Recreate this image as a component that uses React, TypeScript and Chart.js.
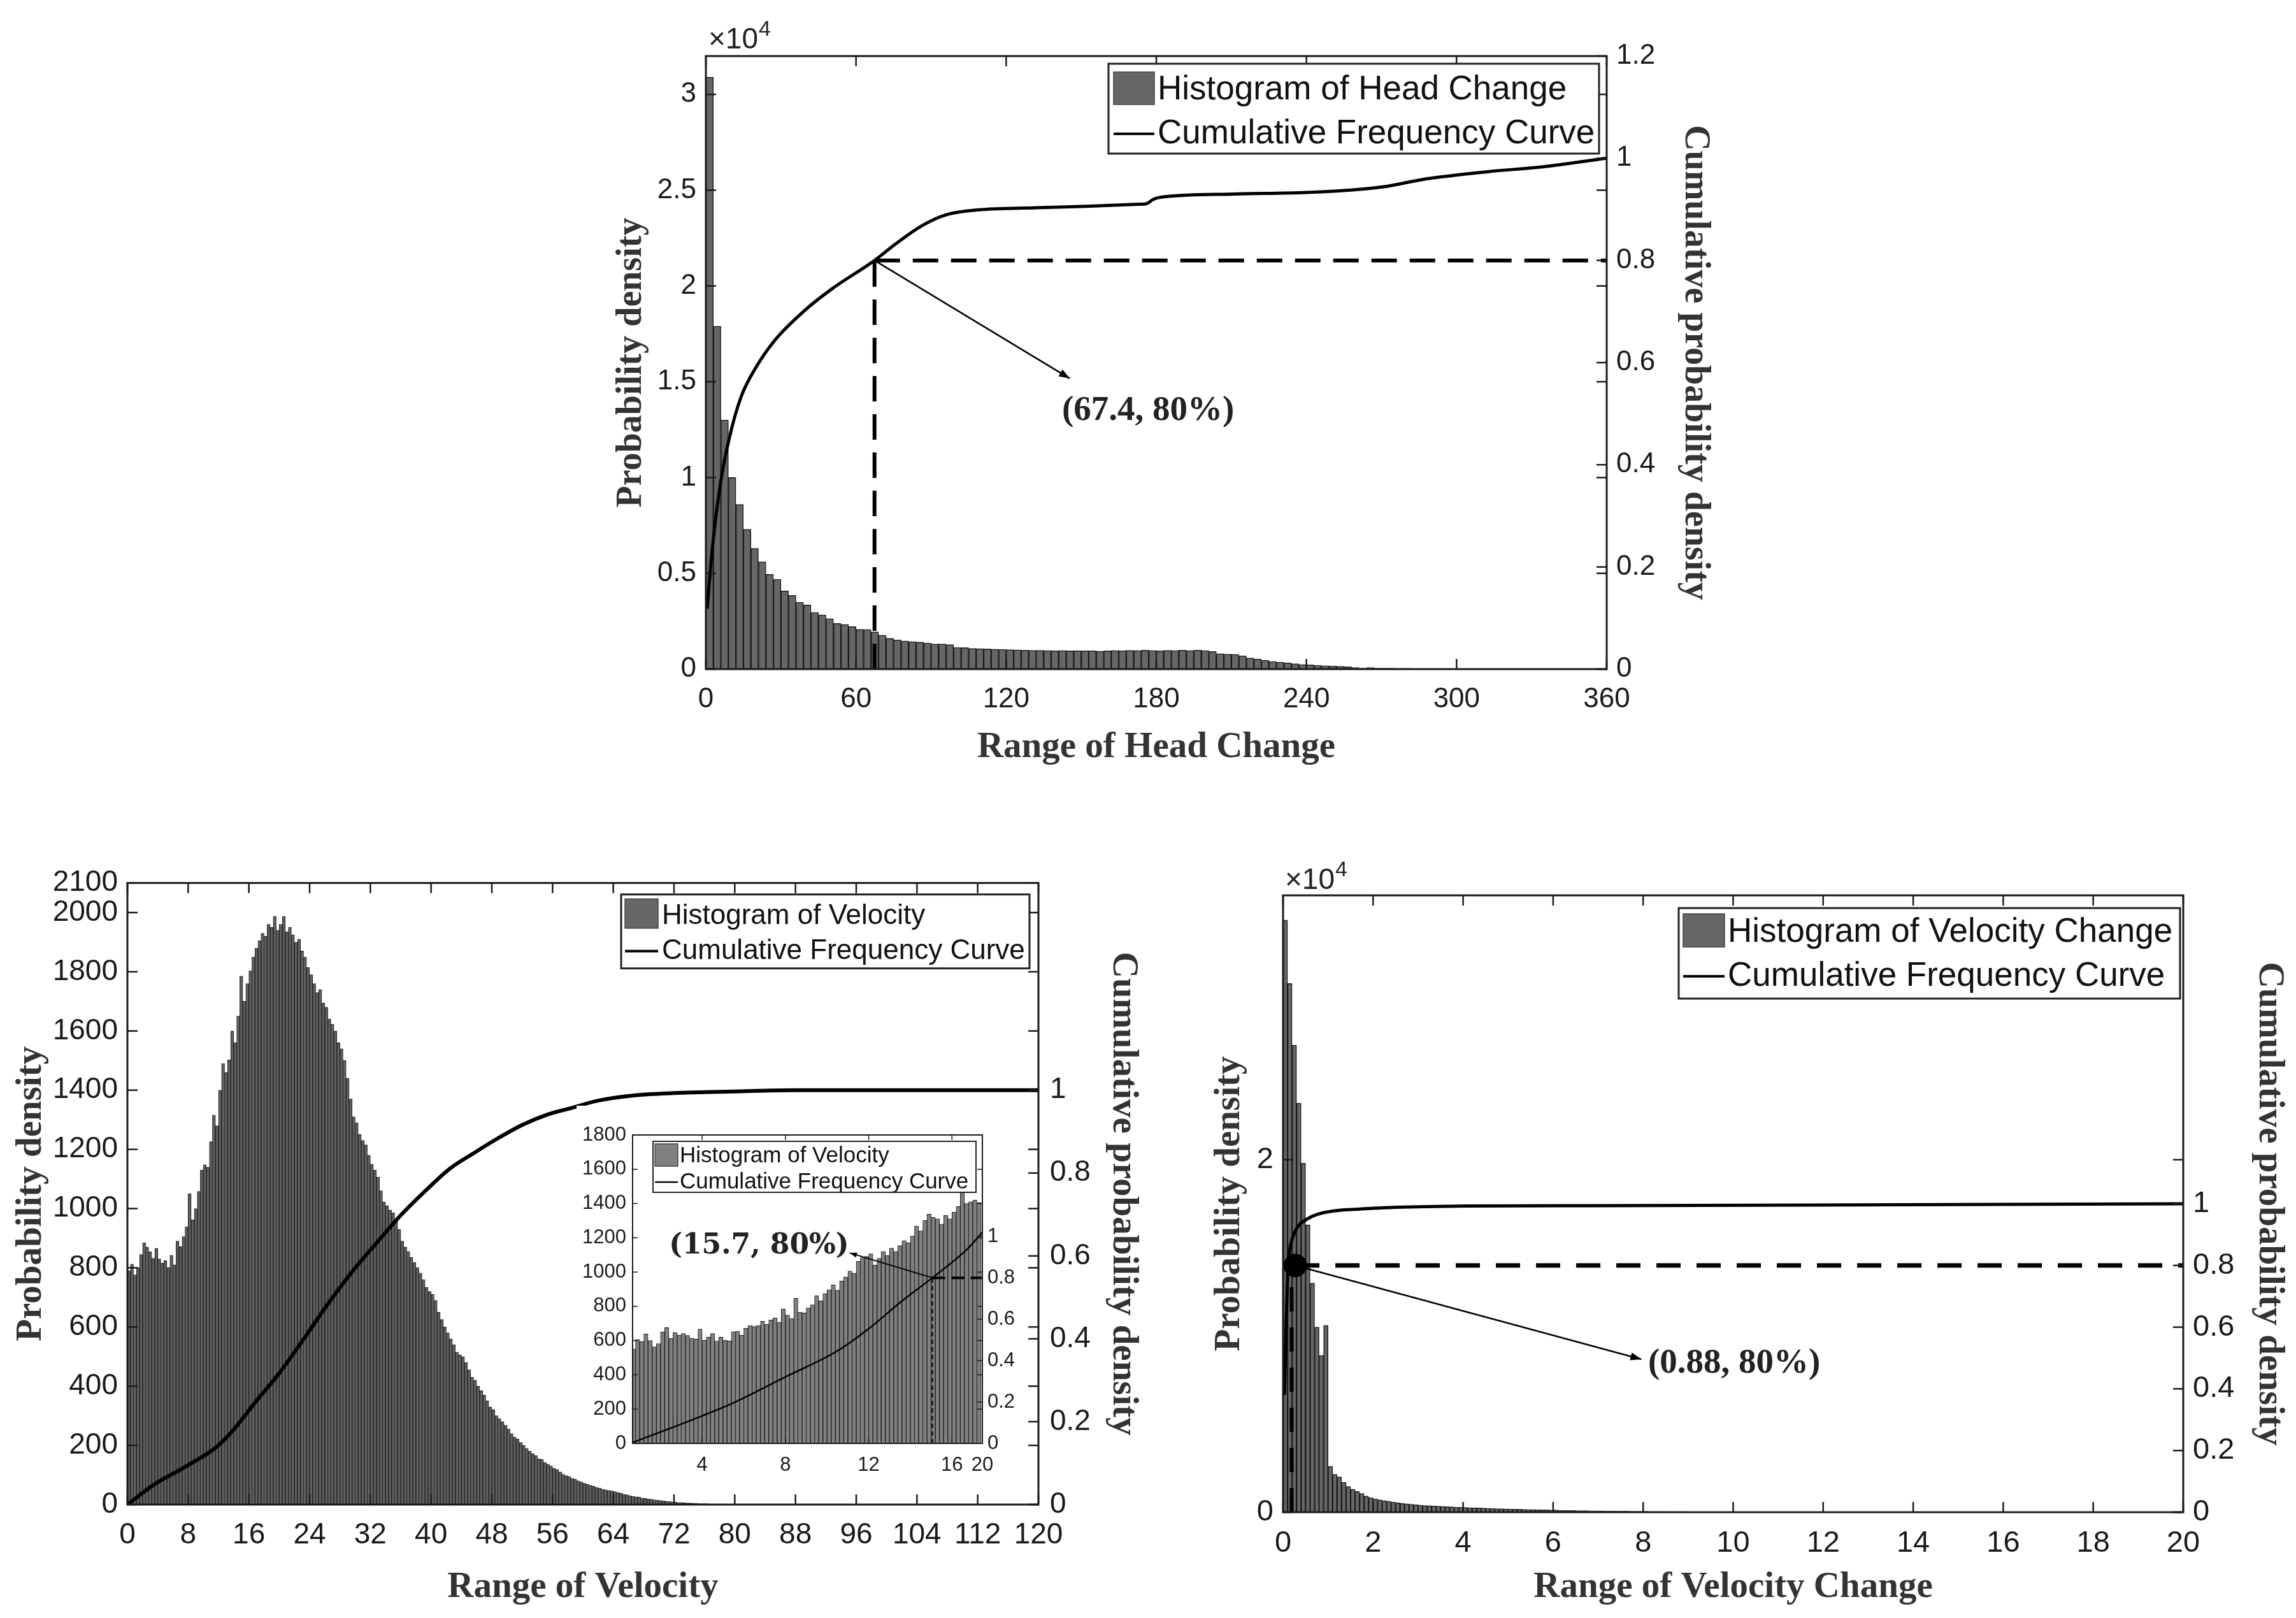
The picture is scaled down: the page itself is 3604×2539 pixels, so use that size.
import { useEffect, useRef } from "react";
import { Chart, registerables } from "chart.js";

Chart.register(...registerables);

const sans = "'Liberation Sans', Arial, Helvetica, sans-serif";
const serif = "'Liberation Serif', 'Times New Roman', serif";
const wideSerif = "'DejaVu Serif', serif";

// ---------- top: head change ----------
const headBinStart = 0;
const headBinWidth = 3;
// probability density in units of 10^4, one bar per 3 degrees
const headDensity = [
  3.09, 1.79, 1.3, 1.0, 0.86, 0.73, 0.63, 0.56, 0.495, 0.469,
  0.408, 0.385, 0.349, 0.335, 0.296, 0.283, 0.263, 0.238, 0.233, 0.222,
  0.208, 0.207, 0.194, 0.177, 0.161, 0.153, 0.147, 0.144, 0.141, 0.136,
  0.131, 0.131, 0.128, 0.113, 0.112, 0.108, 0.107, 0.105, 0.104, 0.103,
  0.101, 0.1, 0.099, 0.098, 0.098, 0.097, 0.096, 0.097, 0.095, 0.096,
  0.095, 0.096, 0.094, 0.095, 0.097, 0.096, 0.098, 0.097, 0.099, 0.097,
  0.095, 0.098, 0.097, 0.099, 0.097, 0.099, 0.097, 0.092, 0.08, 0.078,
  0.077, 0.07, 0.058, 0.052, 0.046, 0.04, 0.036, 0.033, 0.028, 0.024,
  0.022, 0.02, 0.017, 0.016, 0.015, 0.012, 0.008, 0.005, 0.008, 0.005,
  0.005, 0.005, 0.004, 0.004, 0.003, 0.002, 0.002, 0.002, 0.002, 0.002,
  0.002, 0.002, 0.002, 0.002, 0.002, 0.001, 0.001, 0.001, 0.001, 0.001,
  0.001, 0.001, 0.001, 0.001, 0.001, 0.001, 0.001, 0.001, 0.001, 0.001,
];
const headCurveX = [0.5, 2.6, 6, 9.4, 14, 19.7, 27.6, 39, 50, 67.4, 76, 86.7, 95.8, 109, 132, 152, 173, 176, 179, 184, 211, 240, 263, 272, 287, 313, 334, 360];
const headCurveY = [0.118, 0.237, 0.369, 0.453, 0.532, 0.588, 0.644, 0.7, 0.743, 0.8, 0.833, 0.869, 0.889, 0.899, 0.903, 0.906, 0.91, 0.911, 0.92, 0.925, 0.93, 0.933, 0.94, 0.945, 0.959, 0.974, 0.983, 1.0];
const headXTicks = [0, 60, 120, 180, 240, 300, 360];
const headLeftTicks = [0, 0.5, 1, 1.5, 2, 2.5, 3];
const headRightTicks = [0, 0.2, 0.4, 0.6, 0.8, 1, 1.2];
const headPoint = [67.4, 0.8];
const headArrowTip = [145.4, 0.569];
const headNote = "(67.4, 80%)";
const headNoteAt = [142.3, 0.505];
const headLegend = ["Histogram of Head Change", "Cumulative Frequency Curve"];

// ---------- bottom left: velocity ----------
const velBinStart = 0;
const velBinWidth = 0.4;
const velDensity = [
  790, 812, 776, 800, 845, 884, 870, 854, 832, 866,
  830, 816, 824, 800, 842, 810, 890, 872, 905, 938,
  1050, 962, 1000, 1058, 1130, 1148, 1140, 1226, 1316, 1280,
  1400, 1490, 1460, 1502, 1600, 1560, 1650, 1785, 1700, 1760,
  1803, 1850, 1880, 1905, 1930, 1920, 1960, 1950, 1987, 1940,
  1960, 1987, 1935, 1950, 1925, 1900, 1910, 1870, 1850, 1814,
  1790, 1760, 1730, 1740, 1695, 1680, 1640, 1623, 1600, 1560,
  1540, 1500, 1440, 1370, 1310, 1290, 1250, 1230, 1215, 1180,
  1150, 1130, 1106, 1060, 1022, 1010, 995, 986, 962, 930,
  890, 870, 854, 835, 818, 800, 782, 760, 734, 720,
  710, 690, 650, 625, 600, 580, 560, 540, 515, 505,
  500, 480, 455, 430, 420, 400, 385, 370, 350, 330,
  320, 300, 290, 280, 268, 255, 240, 228, 222, 210,
  200, 190, 180, 172, 165, 155, 152, 142, 136, 130,
  122, 118, 110, 102, 98, 95, 88, 86, 80, 76,
  72, 68, 65, 62, 58, 55, 52, 50, 48, 46,
  44, 40, 38, 35, 33, 30, 28, 26, 25, 22,
  21, 19, 18, 16, 15, 14, 12, 11, 10, 9,
  8, 7, 7, 6, 5, 5, 4, 4, 3, 3,
  3, 2, 2, 2, 2, 1, 1, 1, 1, 1,
];
const velCurveX = [0, 3.4, 7.6, 11.8, 14, 16.8, 20, 23.2, 26.4, 29.6, 32.8, 36.1, 39.3, 42.5, 45.7, 48.9, 52.1, 55.3, 58.5, 61.8, 67.1, 72, 80, 88, 100, 120];
const velCurveY = [0, 0.047, 0.091, 0.14, 0.181, 0.246, 0.317, 0.399, 0.484, 0.562, 0.631, 0.7, 0.758, 0.811, 0.849, 0.885, 0.917, 0.941, 0.957, 0.974, 0.988, 0.993, 0.997, 1.0, 1.0, 1.0];
const velXTicks = [0, 8, 16, 24, 32, 40, 48, 56, 64, 72, 80, 88, 96, 104, 112, 120];
const velLeftTicks = [0, 200, 400, 600, 800, 1000, 1200, 1400, 1600, 1800, 2000, 2100];
const velRightTicks = [0, 0.2, 0.4, 0.6, 0.8, 1];
const velLegend = ["Histogram of Velocity", "Cumulative Frequency Curve"];

// ---------- inset of the velocity panel ----------
const insetBinStart = 0.6;
const insetBinWidth = 0.2;
const insetDensity = [
  551, 607, 595, 638, 600, 563, 582, 651, 676, 613,
  647, 632, 641, 630, 613, 610, 667, 601, 620, 641,
  597, 620, 601, 598, 651, 655, 632, 673, 688, 682,
  688, 713, 694, 720, 732, 707, 784, 749, 729, 847,
  766, 761, 790, 809, 862, 832, 875, 897, 925, 894,
  948, 971, 1006, 994, 1062, 1084, 1091, 1106, 1040, 1080,
  1120, 1097, 1140, 1120, 1154, 1183, 1170, 1210, 1268, 1240,
  1300, 1339, 1320, 1311, 1280, 1330, 1311, 1350, 1382, 1467,
  1400, 1410, 1420, 1405,
];
const insetCurveX = [0.66, 4, 5.5, 8, 10.5, 12.1, 13.6, 15.06, 16.75, 17.46];
const insetCurveY = [0.004, 0.133, 0.196, 0.321, 0.447, 0.562, 0.688, 0.8, 0.94, 1.02];
const insetXRange = [0.66, 17.46];
const insetXTicks = [4, 8, 12, 16, 17.46];
const insetXLabels = ["4", "8", "12", "16", "20"];
const insetLeftTicks = [0, 200, 400, 600, 800, 1000, 1200, 1400, 1600, 1800];
const insetRightTicks = [0, 0.2, 0.4, 0.6, 0.8, 1];
const insetPoint = [15.06, 0.8];
const insetArrowTip = [11.09, 0.92];
const insetNote = "(15.7, 80%)";
const insetNoteAt = [2.41, 0.954];

// ---------- bottom right: velocity change ----------
const chgBinStart = 0;
const chgBinWidth = 0.1;
// probability density in units of 10^4
const chgDensity = [
  3.36, 3.0, 2.65, 2.32, 1.98, 1.63, 1.3, 1.05, 0.89, 1.06,
  0.26, 0.215, 0.2, 0.17, 0.146, 0.13, 0.118, 0.106, 0.092, 0.083,
  0.076, 0.07, 0.066, 0.062, 0.058, 0.053, 0.05, 0.048, 0.045, 0.042,
  0.04, 0.038, 0.037, 0.036, 0.034, 0.033, 0.031, 0.03, 0.029, 0.028,
  0.027, 0.026, 0.025, 0.024, 0.023, 0.022, 0.021, 0.02, 0.02, 0.019,
  0.018, 0.017, 0.017, 0.016, 0.015, 0.015, 0.014, 0.013, 0.013, 0.012,
  0.012, 0.011, 0.011, 0.01, 0.01, 0.009, 0.009, 0.009, 0.008, 0.008,
  0.008, 0.007, 0.007, 0.007, 0.006, 0.006, 0.006, 0.005, 0.005, 0.005,
  0.005, 0.004, 0.004, 0.004, 0.004, 0.003, 0.003, 0.003, 0.003, 0.003,
  0.002, 0.002, 0.002, 0.002, 0.002, 0.002, 0.001, 0.001, 0.002, 0.001,
];
const chgCurveX = [0.03, 0.07, 0.1, 0.13, 0.175, 0.29, 0.53, 1.0, 1.71, 2.65, 4.07, 7, 13.7, 20];
const chgCurveY = [0.38, 0.62, 0.76, 0.83, 0.87, 0.917, 0.95, 0.974, 0.983, 0.989, 0.993, 0.994, 0.997, 1.0];
const chgXTicks = [0, 2, 4, 6, 8, 10, 12, 14, 16, 18, 20];
const chgLeftTicks = [0, 2];
const chgRightTicks = [0, 0.2, 0.4, 0.6, 0.8, 1];
const chgPoint = [0.27, 0.8];
const chgDropX = 0.19;
const chgArrowTip = [7.96, 0.496];
const chgNote = "(0.88, 80%)";
const chgNoteAt = [8.11, 0.481];
const chgLegend = ["Histogram of Velocity Change", "Cumulative Frequency Curve"];

const pts = (xs: number[], ys: number[]) => xs.map((x, i) => ({ x, y: ys[i] }));
const binned = (vals: number[], start: number, width: number) =>
  vals.map((y, i) => ({ x: start + (i + 0.5) * width, y }));

function seg(c: any, x0: number, y0: number, x1: number, y1: number) {
  c.beginPath();
  c.moveTo(x0, y0);
  c.lineTo(x1, y1);
  c.stroke();
}

// frame, inward ticks, legend box, arrow and notes in MATLAB style
const decoPlugin = {
  id: "deco",
  beforeDraw(chart: any, _args: any, o: any) {
    if (!o.whiteBg) return;
    const c = chart.ctx;
    c.save();
    c.fillStyle = "#fff";
    c.fillRect(0, 0, chart.width, chart.height);
    c.restore();
  },
  afterDraw(chart: any, _args: any, o: any) {
    const c = chart.ctx;
    const a = chart.chartArea;
    const xs = chart.scales.x;
    const yl = chart.scales.y;
    const yr = chart.scales.y1;
    const tl = o.tickLen;
    c.save();
    c.setLineDash([]);
    c.strokeStyle = "#1a1a1a";
    c.lineWidth = o.tickWidth;
    for (const t of xs.ticks) {
      const px = xs.getPixelForValue(t.value);
      seg(c, px, a.bottom, px, a.bottom - tl);
      seg(c, px, a.top, px, a.top + tl);
    }
    for (const t of yl.ticks) {
      const py = yl.getPixelForValue(t.value);
      seg(c, a.left, py, a.left + tl, py);
      seg(c, a.right, py, a.right - tl, py);
    }
    for (const t of yr.ticks) {
      const py = yr.getPixelForValue(t.value);
      seg(c, a.right, py, a.right - tl, py);
    }
    c.lineWidth = o.frameWidth;
    c.strokeRect(a.left, a.top, a.right - a.left, a.bottom - a.top);

    if (o.arrow) {
      const { from, to, width, head } = o.arrow;
      const x0 = xs.getPixelForValue(from[0]);
      const y0 = yr.getPixelForValue(from[1]);
      const x1 = xs.getPixelForValue(to[0]);
      const y1 = yr.getPixelForValue(to[1]);
      c.strokeStyle = "#000";
      c.lineWidth = width;
      seg(c, x0, y0, x1, y1);
      const ang = Math.atan2(y1 - y0, x1 - x0);
      c.fillStyle = "#000";
      c.beginPath();
      c.moveTo(x1, y1);
      c.lineTo(x1 - head * Math.cos(ang - 0.35), y1 - head * Math.sin(ang - 0.35));
      c.lineTo(x1 - head * Math.cos(ang + 0.35), y1 - head * Math.sin(ang + 0.35));
      c.closePath();
      c.fill();
    }

    if (o.note) {
      c.font = `bold ${o.note.size}px ${o.note.family}`;
      c.fillStyle = "#222";
      c.textAlign = "left";
      c.textBaseline = "middle";
      c.fillText(o.note.text, xs.getPixelForValue(o.note.at[0]), yr.getPixelForValue(o.note.at[1]));
    }

    if (o.legend) {
      const L = o.legend;
      const bx = a.right - L.right - L.w;
      const by = a.top + L.top;
      c.fillStyle = "#fff";
      c.fillRect(bx, by, L.w, L.h);
      c.strokeStyle = "#222";
      c.lineWidth = L.border;
      c.strokeRect(bx, by, L.w, L.h);
      c.fillStyle = L.swatchColor;
      c.fillRect(bx + L.sw[0], by + L.sw[1], L.sw[2], L.sw[3]);
      c.lineWidth = 1.5;
      c.strokeStyle = "#444";
      c.strokeRect(bx + L.sw[0], by + L.sw[1], L.sw[2], L.sw[3]);
      c.strokeStyle = "#000";
      c.lineWidth = L.lineWidth;
      seg(c, bx + L.sw[0], by + L.rows[1], bx + L.sw[0] + L.sw[2], by + L.rows[1]);
      c.fillStyle = "#111";
      c.font = `${L.size}px ${sans}`;
      c.textAlign = "left";
      c.textBaseline = "middle";
      c.fillText(L.labels[0], bx + L.textX, by + L.rows[0]);
      c.fillText(L.labels[1], bx + L.textX, by + L.rows[1]);
    }

    if (o.exponent) {
      const e = o.exponent;
      c.fillStyle = "#222";
      c.textAlign = "left";
      c.textBaseline = "alphabetic";
      c.font = `${e.size}px ${sans}`;
      const x0 = a.left + e.dx;
      const y0 = a.top - e.dy;
      c.fillText("\u00d710", x0, y0);
      const w = c.measureText("\u00d710").width;
      c.font = `${e.supSize}px ${sans}`;
      c.fillText("4", x0 + w + 1, y0 - e.rise);
    }
    c.restore();
  },
};

function axis(s: any) {
  const horizontal = s.position === "bottom";
  return {
    type: "linear",
    position: s.position,
    min: s.min,
    max: s.max,
    offset: false,
    grid: { display: false, drawTicks: false },
    border: { display: false },
    afterBuildTicks: (sc: any) => {
      sc.ticks = s.ticks.map((v: number) => ({ value: v }));
    },
    afterFit: (sc: any) => {
      if (horizontal) sc.height = s.size;
      else sc.width = s.size;
    },
    ticks: {
      autoSkip: false,
      maxRotation: 0,
      minRotation: 0,
      padding: s.tickPad,
      color: "#1a1a1a",
      font: { family: sans, size: s.tickSize },
      callback: (v: number, i: number) => (s.labels ? s.labels[i] : String(v)),
    },
    title: s.title
      ? {
          display: true,
          text: s.title,
          color: "#333",
          font: { family: serif, size: s.titleSize, weight: "bold" },
          padding: horizontal ? { top: 0, bottom: s.titlePad } : { top: s.titlePad, bottom: 0 },
        }
      : { display: false },
  };
}

const curve = (data: any[], width: number) => ({
  type: "line",
  data,
  yAxisID: "y1",
  borderColor: "#000",
  borderWidth: width,
  pointRadius: 0,
  cubicInterpolationMode: "monotone",
  fill: false,
  order: 1,
});

const dashed = (data: any[], width: number, dash: number[]) => ({
  type: "line",
  data,
  yAxisID: "y1",
  borderColor: "#000",
  borderWidth: width,
  borderDash: dash,
  pointRadius: 0,
  tension: 0,
  fill: false,
  order: 0,
});

const hist = (data: any[], fill: string, edge: number) => ({
  type: "bar",
  data,
  yAxisID: "y",
  backgroundColor: fill,
  borderColor: "#1a1a1a",
  borderWidth: edge,
  barPercentage: 1,
  categoryPercentage: 1,
  order: 5,
});

function config(datasets: any[], scales: any, topPad: number, deco: any) {
  return {
    type: "bar",
    data: { datasets },
    options: {
      responsive: false,
      animation: false,
      devicePixelRatio: 1,
      events: [],
      layout: { padding: { top: topPad, left: 0, right: 0, bottom: 0 } },
      plugins: { legend: { display: false }, tooltip: { enabled: false }, deco },
      scales,
    },
    plugins: [decoPlugin],
  };
}

const headConfig = () =>
  config(
    [
      dashed([{ x: headPoint[0], y: headPoint[1] }, { x: 360, y: headPoint[1] }], 6, [40, 20]),
      dashed([{ x: headPoint[0], y: 0 }, { x: headPoint[0], y: headPoint[1] }], 6, [40, 20]),
      curve(pts(headCurveX, headCurveY), 5),
      hist(binned(headDensity, headBinStart, headBinWidth), "#666666", 1.5),
    ],
    {
      x: axis({ position: "bottom", min: 0, max: 360, ticks: headXTicks, size: 180, title: "Range of Head Change", titleSize: 57, titlePad: 23, tickSize: 44, tickPad: 21 }),
      y: axis({ position: "left", min: 0, max: 3.2, ticks: headLeftTicks, size: 208, title: "Probability density", titleSize: 56, titlePad: 58, tickSize: 44, tickPad: 15 }),
      y1: axis({ position: "right", min: 0, max: 1.2, ticks: headRightTicks, size: 198, title: "Cumulative probability density", titleSize: 56, titlePad: 26, tickSize: 44, tickPad: 15 }),
    },
    88,
    {
      tickLen: 16,
      tickWidth: 2.5,
      frameWidth: 3,
      arrow: { from: headPoint, to: headArrowTip, width: 2.5, head: 18 },
      note: { text: headNote, at: headNoteAt, size: 55, family: serif },
      legend: { labels: headLegend, right: 12, top: 12, w: 770, h: 141, sw: [8, 13, 64, 51], textX: 77, rows: [41, 110], size: 53, border: 3, lineWidth: 4, swatchColor: "#666666" },
      exponent: { dx: 4, dy: 12, rise: 20, size: 46, supSize: 34 },
    }
  );

const velocityConfig = () =>
  config(
    [
      curve(pts(velCurveX, velCurveY), 6),
      hist(binned(velDensity, velBinStart, velBinWidth), "#606060", 1),
    ],
    {
      x: axis({ position: "bottom", min: 0, max: 120, ticks: velXTicks, size: 178, title: "Range of Velocity", titleSize: 57, titlePad: 14, tickSize: 46, tickPad: 21 }),
      y: axis({ position: "left", min: 0, max: 2100, ticks: velLeftTicks, size: 200, title: "Probability density", titleSize: 57, titlePad: 15, tickSize: 46, tickPad: 15 }),
      y1: axis({ position: "right", min: 0, max: 1.5, ticks: velRightTicks, size: 200, title: "Cumulative probability density", titleSize: 57, titlePad: 33, tickSize: 46, tickPad: 18 }),
    },
    44,
    {
      tickLen: 16,
      tickWidth: 2.5,
      frameWidth: 3,
      legend: { labels: velLegend, right: 14, top: 18, w: 641, h: 116, sw: [6, 7, 52, 46], textX: 64, rows: [34, 89], size: 44, border: 3, lineWidth: 4, swatchColor: "#666666" },
    }
  );

const insetConfig = () =>
  config(
    [
      dashed([{ x: insetPoint[0], y: insetPoint[1] }, { x: insetXRange[1], y: insetPoint[1] }], 4, [20, 10]),
      dashed([{ x: insetPoint[0], y: 0 }, { x: insetPoint[0], y: insetPoint[1] }], 2, [7, 5]),
      curve(pts(insetCurveX, insetCurveY), 2.5),
      hist(binned(insetDensity, insetBinStart, insetBinWidth), "#808080", 1),
    ],
    {
      x: axis({ position: "bottom", min: insetXRange[0], max: insetXRange[1], ticks: insetXTicks, labels: insetXLabels, size: 57, tickSize: 31, tickPad: 16 }),
      y: axis({ position: "left", min: 0, max: 1800, ticks: insetLeftTicks, size: 88, tickSize: 31, tickPad: 10 }),
      y1: axis({ position: "right", min: 0, max: 1.49, ticks: insetRightTicks, size: 63, tickSize: 31, tickPad: 8 }),
    },
    46,
    {
      whiteBg: true,
      tickLen: 8,
      tickWidth: 1.5,
      frameWidth: 2,
      arrow: { from: insetPoint, to: insetArrowTip, width: 2, head: 12 },
      note: { text: insetNote, at: insetNoteAt, size: 44, family: wideSerif },
      legend: { labels: velLegend, right: 10, top: 10, w: 507, h: 80, sw: [3, 4, 36, 35], textX: 42, rows: [23, 64], size: 35, border: 2, lineWidth: 2.5, swatchColor: "#808080" },
    }
  );

const changeConfig = () =>
  config(
    [
      {
        type: "line",
        data: [{ x: chgPoint[0], y: chgPoint[1] }],
        yAxisID: "y1",
        showLine: false,
        pointRadius: 18,
        pointBackgroundColor: "#000",
        pointBorderColor: "#000",
        order: 0,
      },
      dashed([{ x: chgPoint[0], y: chgPoint[1] }, { x: 20, y: chgPoint[1] }], 7, [38, 25]),
      dashed([{ x: chgDropX, y: 0 }, { x: chgDropX, y: chgPoint[1] }], 6, [38, 25]),
      curve(pts(chgCurveX, chgCurveY), 5),
      hist(binned(chgDensity, chgBinStart, chgBinWidth), "#666666", 1.5),
    ],
    {
      x: axis({ position: "bottom", min: 0, max: 20, ticks: chgXTicks, size: 166, title: "Range of Velocity Change", titleSize: 57, titlePad: 14, tickSize: 47, tickPad: 21 }),
      y: axis({ position: "left", min: 0, max: 3.5, ticks: chgLeftTicks, size: 134, title: "Probability density", titleSize: 57, titlePad: 16, tickSize: 47, tickPad: 15 }),
      y1: axis({ position: "right", min: 0, max: 2, ticks: chgRightTicks, size: 177, title: "Cumulative probability density", titleSize: 57, titlePad: 8, tickSize: 47, tickPad: 15 }),
    },
    65,
    {
      tickLen: 16,
      tickWidth: 2.5,
      frameWidth: 3,
      arrow: { from: chgPoint, to: chgArrowTip, width: 2.5, head: 18 },
      note: { text: chgNote, at: chgNoteAt, size: 55, family: serif },
      legend: { labels: chgLegend, right: 5, top: 20, w: 787, h: 142, sw: [7, 9, 65, 52], textX: 77, rows: [38, 107], size: 53, border: 3, lineWidth: 4, swatchColor: "#666666" },
      exponent: { dx: 3, dy: 10, rise: 20, size: 46, supSize: 34 },
    }
  );

function Panel({ left, top, width, height, build, z = 1 }: any) {
  const canvasRef = useRef<HTMLCanvasElement>(null);
  useEffect(() => {
    if (!canvasRef.current) return;
    const chart = new Chart(canvasRef.current, build());
    return () => {
      chart.destroy();
    };
  }, [build]);
  return (
    <canvas
      ref={canvasRef}
      width={width}
      height={height}
      style={{ position: "absolute", left, top, width, height, zIndex: z }}
    />
  );
}

export default function App() {
  return (
    <div style={{ position: "absolute", left: 0, top: 0, width: 3604, height: 2539, background: "#fff", overflow: "hidden" }}>
      <Panel left={900} top={0} width={1820} height={1230} build={headConfig} />
      <Panel left={0} top={1340} width={1830} height={1199} build={velocityConfig} />
      <Panel left={905} top={1735} width={700} height={587} build={insetConfig} z={2} />
      <Panel left={1880} top={1340} width={1724} height={1199} build={changeConfig} />
    </div>
  );
}
